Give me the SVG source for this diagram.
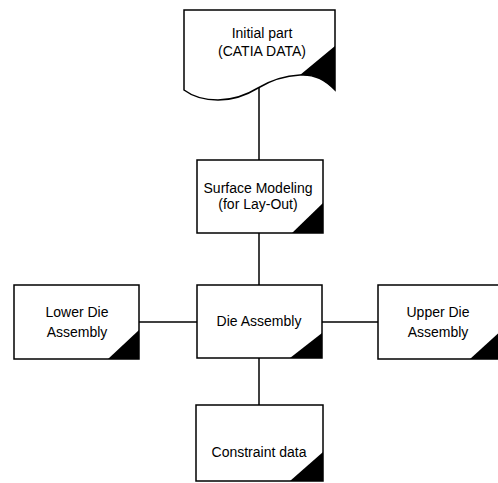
<svg xmlns="http://www.w3.org/2000/svg" width="498" height="483" viewBox="0 0 498 483">
<style>
.box{fill:#fff;stroke:#000;stroke-width:1.5}
.tri{fill:#000}
.line{stroke:#000;stroke-width:1.5;fill:none}
text{font-family:"Liberation Sans",Arial,sans-serif;font-size:14px;fill:#000;text-anchor:middle}
</style>
<rect width="498" height="483" fill="#fff"/>
<g id="connectors">
<line class="line" x1="259" y1="88" x2="259" y2="160"/>
<line class="line" x1="259" y1="233" x2="259" y2="285"/>
<line class="line" x1="259" y1="358" x2="259" y2="405"/>
<line class="line" x1="139" y1="322" x2="197" y2="322"/>
<line class="line" x1="322" y1="322" x2="378" y2="322"/>
</g>
<g id="initial-part">
<path class="box" d="M184,10 L335,10 L335,90 C325,80 315,74 300,75 C280,76 268,82 258,88 C245,96 232,100 218,100 C204,100 192,96 184,90 Z"/>
<path class="tri" d="M300,75 L335,46 L335,90 C325,80 315,74 300,75 Z"/>
<text x="262" y="38">Initial part</text>
<text x="262" y="56">(CATIA DATA)</text>
</g>
<g id="surface-modeling">
<rect class="box" x="197" y="160" width="126" height="73"/>
<path class="tri" d="M292,233 L323,203 L323,233 Z"/>
<text x="258" y="193">Surface Modeling</text>
<text x="258" y="209">(for Lay-Out)</text>
</g>
<g id="lower-die">
<rect class="box" x="14" y="285" width="125" height="74"/>
<path class="tri" d="M108,359 L139,330 L139,359 Z"/>
<text x="77" y="317">Lower Die</text>
<text x="77" y="337">Assembly</text>
</g>
<g id="die-assembly">
<rect class="box" x="197" y="285" width="125" height="73"/>
<path class="tri" d="M290,358 L322,333 L322,358 Z"/>
<text x="259" y="326">Die Assembly</text>
</g>
<g id="upper-die">
<rect class="box" x="378" y="285" width="125" height="74"/>
<path class="tri" d="M470,359 L503,329 L503,359 Z"/>
<text x="438" y="317">Upper Die</text>
<text x="438" y="337">Assembly</text>
</g>
<g id="constraint-data">
<rect class="box" x="196" y="405" width="127" height="76"/>
<path class="tri" d="M290,481 L323,452 L323,481 Z"/>
<text x="259" y="457">Constraint data</text>
</g>
</svg>
